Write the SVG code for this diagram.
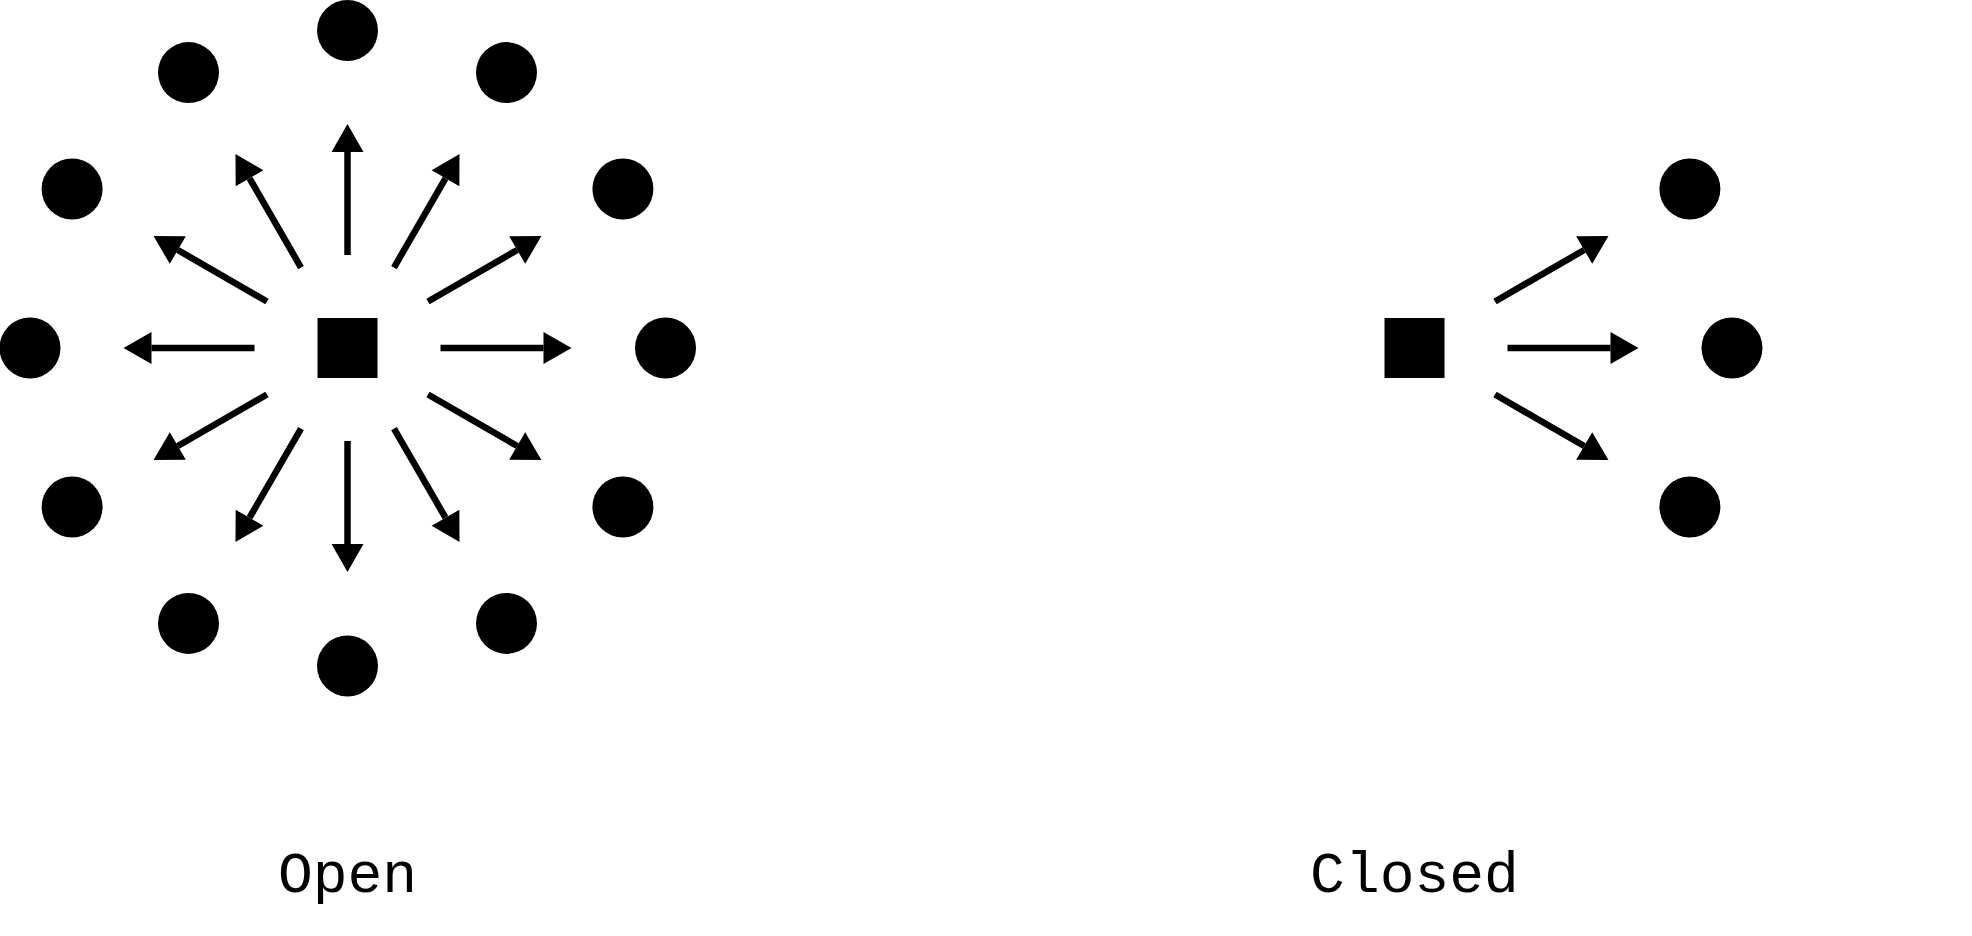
<svg xmlns="http://www.w3.org/2000/svg" width="1972" height="936" viewBox="0 0 1972 936">
<style>
.bg{fill:#fff}
.dot{fill:#000}
.hub{fill:#000}
.edge{stroke:#000;stroke-width:6.5;fill:none;marker-end:url(#arr)}
.lbl{font-family:"Liberation Mono","DejaVu Sans Mono",monospace;font-size:58px;fill:#000;text-anchor:middle}
</style>
<defs>
<marker id="arr" markerUnits="userSpaceOnUse" markerWidth="28" markerHeight="32" viewBox="0 -16 28 32" refX="0" refY="0" orient="auto" overflow="visible">
<path d="M0,-16 L28,0 L0,16 z" fill="#000"/>
</marker>
</defs>
<rect class="bg" x="0" y="0" width="1972" height="936"/>
<g id="connectors">
<line class="edge" x1="347.5" y1="255" x2="347.5" y2="152"/>
<line class="edge" x1="394" y1="267.5" x2="445.5" y2="178.3"/>
<line class="edge" x1="428" y1="301.5" x2="517.2" y2="250"/>
<line class="edge" x1="440.5" y1="348" x2="543.5" y2="348"/>
<line class="edge" x1="428" y1="394.5" x2="517.2" y2="446"/>
<line class="edge" x1="394" y1="428.5" x2="445.5" y2="517.7"/>
<line class="edge" x1="347.5" y1="441" x2="347.5" y2="544"/>
<line class="edge" x1="301" y1="428.5" x2="249.5" y2="517.7"/>
<line class="edge" x1="267" y1="394.5" x2="177.8" y2="446"/>
<line class="edge" x1="254.5" y1="348" x2="151.5" y2="348"/>
<line class="edge" x1="267" y1="301.5" x2="177.8" y2="250"/>
<line class="edge" x1="301" y1="267.5" x2="249.5" y2="178.3"/>
<line class="edge" x1="1495" y1="301.5" x2="1584.2" y2="250"/>
<line class="edge" x1="1507.5" y1="348" x2="1610.5" y2="348"/>
<line class="edge" x1="1495" y1="394.5" x2="1584.2" y2="446"/>
</g>
<g id="open-hub"><rect class="hub" x="317.5" y="318" width="60" height="60"/></g>
<g id="open-n0"><circle class="dot" cx="347.5" cy="30.5" r="30.5"/></g>
<g id="open-n1"><circle class="dot" cx="506.5" cy="72.6" r="30.5"/></g>
<g id="open-n2"><circle class="dot" cx="622.9" cy="189" r="30.5"/></g>
<g id="open-n3"><circle class="dot" cx="665.5" cy="348" r="30.5"/></g>
<g id="open-n4"><circle class="dot" cx="622.9" cy="507" r="30.5"/></g>
<g id="open-n5"><circle class="dot" cx="506.5" cy="623.4" r="30.5"/></g>
<g id="open-n6"><circle class="dot" cx="347.5" cy="666" r="30.5"/></g>
<g id="open-n7"><circle class="dot" cx="188.5" cy="623.4" r="30.5"/></g>
<g id="open-n8"><circle class="dot" cx="72.1" cy="507" r="30.5"/></g>
<g id="open-n9"><circle class="dot" cx="30" cy="348" r="30.5"/></g>
<g id="open-n10"><circle class="dot" cx="72.1" cy="189" r="30.5"/></g>
<g id="open-n11"><circle class="dot" cx="188.5" cy="72.6" r="30.5"/></g>
<g id="closed-hub"><rect class="hub" x="1384.5" y="318" width="60" height="60"/></g>
<g id="closed-n1"><circle class="dot" cx="1689.9" cy="189" r="30.5"/></g>
<g id="closed-n2"><circle class="dot" cx="1732" cy="348" r="30.5"/></g>
<g id="closed-n3"><circle class="dot" cx="1689.9" cy="507" r="30.5"/></g>
<g id="label-open"><text class="lbl" x="347.5" y="892">Open</text></g>
<g id="label-closed"><text class="lbl" x="1414.5" y="892">Closed</text></g>
</svg>
